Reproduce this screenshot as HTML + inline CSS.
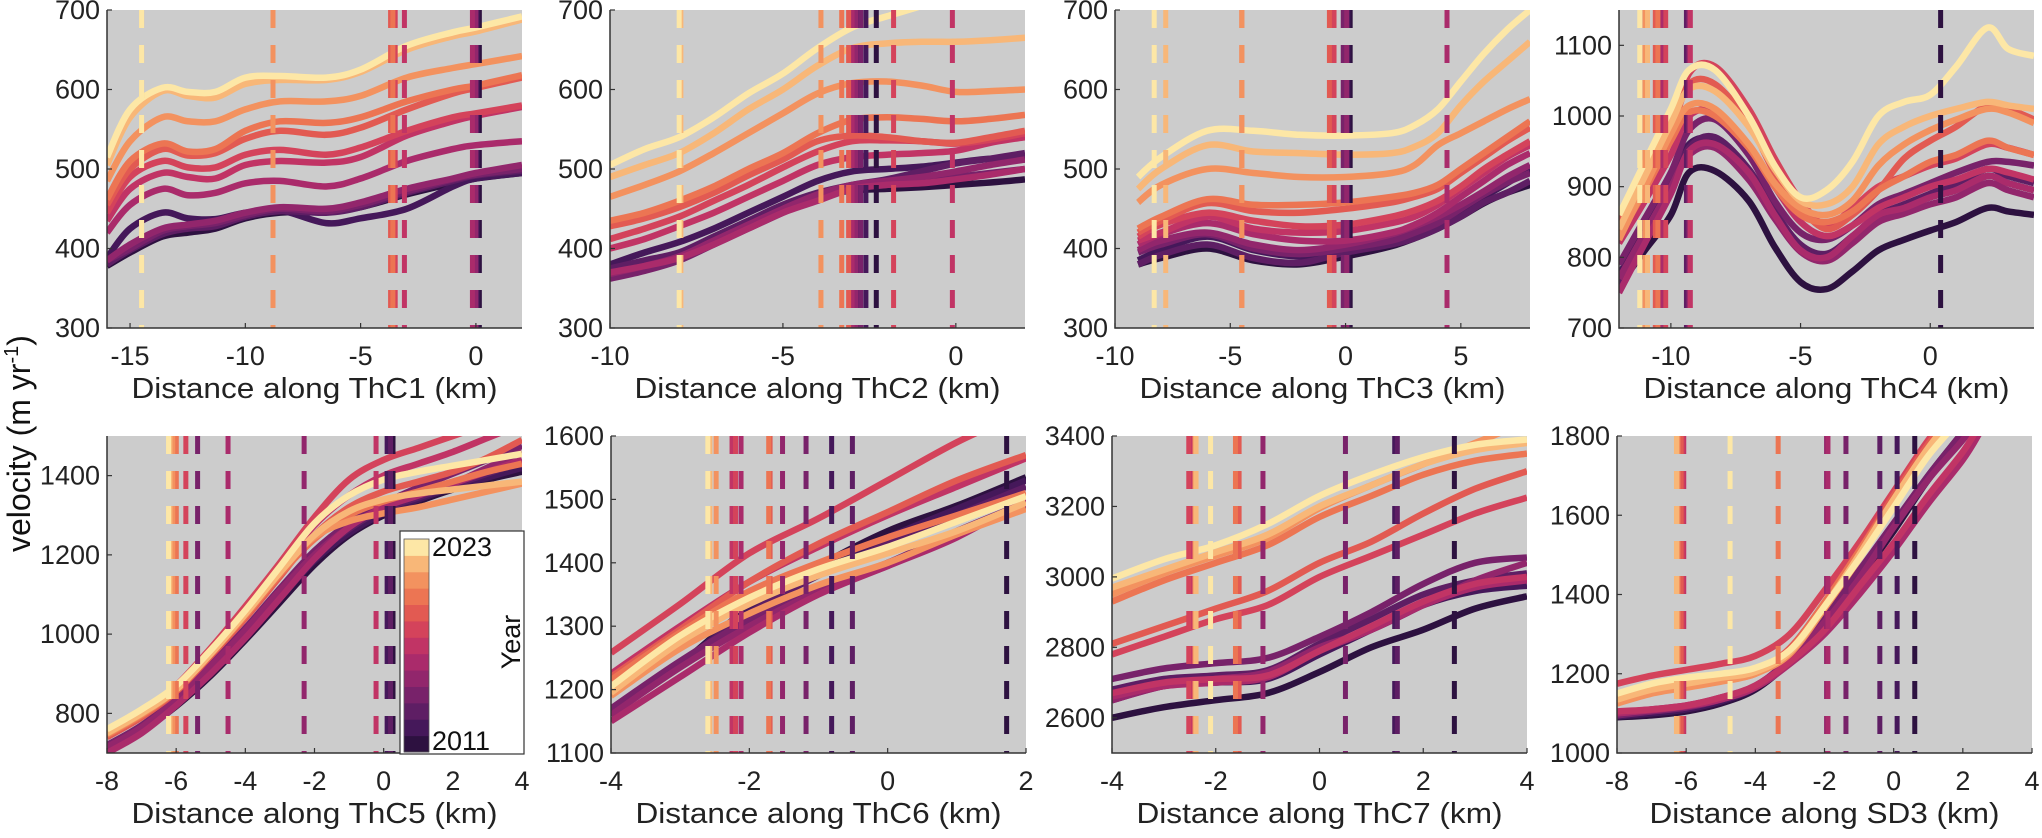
<!DOCTYPE html>
<html><head><meta charset="utf-8">
<style>
html,body{margin:0;padding:0;background:#fff;}
svg{display:block;font-family:"Liberation Sans",Arial,sans-serif;}
</style></head>
<body>
<svg id="fig" width="2042" height="838" viewBox="0 0 2042 838" xmlns="http://www.w3.org/2000/svg">
<text transform="translate(30,552) rotate(-90)" font-size="32" fill="#111">velocity (m yr<tspan dy="-12" font-size="20">-1</tspan><tspan dy="12">)</tspan></text>
</svg>
<script>
const years=[2011,2012,2013,2014,2015,2016,2017,2018,2019,2020,2021,2022,2023];
const colors=['#2d1140','#45185a','#5e1e64','#78226a','#92266c','#aa2b6b','#c13465','#d4435b','#e25a52','#ec7553','#f3925f','#f8b778','#fde7a6'];

// Panel 1 ThC1
const p1x=[-16,-15,-13.6,-12.5,-11.3,-10,-8.5,-6.5,-5,-3,-1,0,2];
const p1v=[
[378,395,415,420,425,438,445,447,452,468,482,488,495],
[388,425,445,438,437,445,448,432,438,450,478,488,495],
[380,398,418,425,428,440,447,445,452,470,485,492,498],
[385,400,422,428,432,442,450,447,455,472,487,493,500],
[385,405,425,430,435,445,452,450,458,475,488,495,505],
[420,455,475,467,470,482,485,478,488,510,525,530,535],
[435,475,495,490,488,505,510,508,515,542,560,567,578],
[445,490,510,502,502,518,524,518,527,548,565,570,580],
[455,500,525,517,520,538,548,543,552,575,595,602,615],
[462,510,532,522,525,548,560,558,565,585,600,605,618],
[485,535,565,560,560,575,585,585,592,615,627,632,642],
[505,565,598,592,590,607,612,612,622,650,667,673,688],
[515,575,602,597,597,615,617,615,625,655,672,678,692]];
const p1t=[0.15,0.05,-0.05,-0.1,0,-0.15,-3.1,-3.5,-3.7,-3.6,-8.8,-14.5,-14.5];
// Panel 2 ThC2
const p2x=[-10,-9,-8,-7,-6,-5,-4,-3,-2,-1,0,1,2];
const p2v=[
[372,380,390,408,428,448,465,473,475,477,480,483,487],
[380,395,408,425,445,465,485,497,500,503,508,513,512],
[375,385,395,415,435,455,470,480,487,497,507,513,520],
[362,372,385,405,425,445,465,475,480,485,490,495,500],
[368,378,390,410,430,450,468,480,485,490,497,505,512],
[370,378,388,405,425,445,460,475,480,482,487,493,500],
[400,412,428,445,465,485,505,515,518,520,523,533,540],
[412,425,440,460,480,502,522,535,536,535,532,537,545],
[428,438,452,470,492,512,535,542,540,535,533,540,548],
[435,445,460,478,500,520,545,562,565,563,560,563,568],
[465,480,497,520,545,570,595,608,610,605,597,598,600],
[490,505,520,545,575,600,630,652,658,660,660,662,665],
[505,525,540,565,595,620,652,678,692,705,720,735,750]];
const p2t=[-2.3,-2.6,-2.8,-2.75,-2.9,-3.0,-0.1,-1.8,-3.1,-3.3,-3.9,-7.95,-8.0];
// Panel 3 ThC3
const p3x=[-9,-8,-6,-4,-2,0,2,3,4,5,6,7,8];
const p3v=[
[380,388,400,385,380,390,403,413,425,440,457,470,480],
[385,398,415,398,390,395,408,418,432,448,465,482,500],
[380,392,405,388,382,395,405,413,425,440,458,470,485],
[395,405,418,400,393,400,410,420,432,450,468,483,495],
[398,410,420,405,398,405,418,428,440,455,472,490,505],
[405,418,432,418,410,410,420,430,445,465,485,505,520],
[410,420,440,425,420,422,432,440,455,475,495,515,530],
[415,430,445,435,428,430,440,448,460,478,500,518,535],
[420,435,457,447,445,450,458,465,475,495,515,535,552],
[425,440,462,455,455,458,465,470,480,500,520,540,560],
[458,480,500,495,490,490,495,505,530,545,560,575,588],
[475,500,530,522,520,518,520,528,545,580,610,635,660],
[490,515,548,548,543,542,545,555,575,610,645,675,700]];
const p3t=[0.2,0.1,0.0,-0.1,0.05,4.4,-0.6,-0.5,-0.7,-4.5,-4.5,-7.8,-8.3];
// Panel 4 ThC4
const p4x=[-12,-11,-10,-9.3,-8.3,-7,-6,-5,-4,-3,-2,-1,0,1,2.2,3,4];
const p4v=[
[760,810,860,920,922,880,815,765,755,780,810,825,838,850,870,865,860],
[775,840,905,960,965,920,860,810,800,825,855,870,885,895,915,905,895],
[760,830,895,955,970,925,865,818,805,830,860,875,890,905,925,915,905],
[790,855,920,980,995,945,880,835,825,845,875,890,905,920,935,935,930],
[770,835,900,945,955,910,855,808,795,820,850,862,875,885,905,895,885],
[750,820,890,950,960,920,860,810,800,830,860,870,885,895,915,905,895],
[820,880,945,1000,1005,955,900,850,830,845,870,885,900,910,925,920,910],
[840,905,970,1060,1070,1010,940,880,845,870,900,915,930,940,960,955,945],
[850,915,980,1045,1045,990,920,870,840,860,895,940,965,985,1015,1010,995],
[830,895,965,1005,1000,955,900,860,850,865,895,915,935,945,965,955,945],
[825,900,975,1015,1010,960,905,870,860,880,930,960,980,995,1010,1005,990],
[840,915,990,1038,1035,985,925,880,875,900,960,985,1000,1010,1020,1015,1010],
[860,935,1010,1065,1065,1000,930,885,895,935,1000,1020,1030,1070,1125,1095,1085]];
const p4t=[0.4,-9.3,-9.4,-10.3,-9.3,-10.4,-9.25,-10.2,-10.6,-10.5,-11.0,-10.9,-11.2];
// Panel 5 ThC5
const p5x=[-8,-7,-6,-5,-4,-3,-2,-1,0,1,2,3,4];
const p5v=[
[705,755,818,895,985,1080,1175,1250,1300,1335,1365,1390,1410],
[710,760,825,905,995,1090,1185,1255,1305,1340,1370,1395,1420],
[718,768,835,915,1005,1100,1195,1265,1315,1345,1375,1405,1435],
[720,770,840,925,1015,1115,1210,1280,1330,1370,1405,1440,1475],
[715,765,835,920,1010,1110,1200,1270,1320,1350,1380,1420,1460],
[700,750,820,900,990,1090,1190,1270,1320,1350,1380,1410,1440],
[740,795,862,955,1055,1165,1275,1350,1400,1430,1460,1495,1530],
[745,800,870,965,1070,1180,1295,1390,1440,1470,1500,1530,1560],
[740,790,855,945,1040,1145,1250,1320,1360,1385,1410,1445,1490],
[745,795,858,950,1045,1150,1240,1300,1335,1360,1385,1410,1430],
[748,798,860,955,1055,1160,1245,1285,1305,1320,1340,1360,1380],
[750,800,860,950,1050,1155,1250,1310,1340,1355,1365,1375,1385],
[760,810,870,960,1060,1170,1280,1350,1390,1410,1425,1440,1455]];
const p5t=[0.27,0.1,0.2,-5.38,-2.3,-4.5,-0.22,-5.72,-6.0,-6.0,-6.1,-6.18,-6.22];
// Panel 6 ThC6
const p6x=[-4,-3,-2,-1,0,1,2];
const p6v=[
[1160,1240,1330,1395,1450,1490,1535],
[1160,1240,1325,1390,1440,1485,1530],
[1165,1240,1320,1380,1430,1475,1520],
[1170,1245,1310,1360,1400,1450,1495],
[1160,1235,1300,1355,1395,1445,1490],
[1150,1220,1290,1350,1395,1440,1500],
[1225,1300,1370,1425,1475,1520,1565],
[1258,1335,1415,1470,1530,1590,1640],
[1220,1295,1370,1430,1480,1530,1570],
[1215,1290,1355,1400,1440,1475,1510],
[1190,1265,1320,1365,1400,1445,1485],
[1195,1275,1335,1380,1415,1450,1495],
[1205,1285,1345,1390,1425,1465,1505]];
const p6t=[1.72,-0.81,-0.51,-1.18,-1.52,-2.12,-2.25,-2.2,-1.7,-1.72,-2.48,-2.57,-2.6];
// Panel 7 ThC7
const p7x=[-4,-3,-2,-1,0,1,2,3,4];
const p7v=[
[2600,2630,2650,2670,2730,2800,2850,2910,2945],
[2650,2690,2700,2710,2780,2850,2920,2960,2975],
[2680,2710,2720,2735,2810,2880,2950,2990,3010],
[2710,2740,2755,2770,2830,2900,2980,3040,3055],
[2650,2690,2710,2730,2800,2850,2920,2990,3040],
[2660,2690,2700,2715,2790,2850,2920,2970,2990],
[2670,2700,2710,2720,2790,2860,2930,2980,3000],
[2780,2830,2880,2920,3000,3060,3120,3180,3225],
[2810,2860,2910,2960,3040,3100,3180,3250,3300],
[2930,2990,3040,3090,3170,3230,3290,3330,3350],
[2950,3010,3060,3110,3195,3260,3320,3380,3440],
[2970,3020,3070,3120,3200,3260,3320,3360,3380],
[2995,3050,3090,3150,3230,3290,3340,3375,3390]];
const p7t=[2.6,1.45,1.5,0.5,-1.09,-1.6,-2.47,-2.52,-1.55,-1.62,-2.4,-2.38,-2.1];
// Panel 8 SD3
const p8x=[-8,-7,-6,-5,-4,-3,-2,-1,0,1,2,2.5];
const p8v=[
[1090,1095,1105,1125,1160,1230,1320,1440,1560,1690,1800,1860],
[1092,1100,1110,1130,1165,1240,1340,1455,1575,1700,1810,1870],
[1098,1105,1115,1135,1165,1235,1335,1450,1570,1690,1800,1860],
[1095,1105,1115,1135,1168,1240,1345,1460,1580,1700,1810,1870],
[1102,1110,1120,1140,1170,1235,1330,1440,1570,1690,1790,1850],
[1100,1108,1118,1135,1165,1225,1300,1400,1510,1630,1740,1810],
[1105,1110,1120,1140,1170,1230,1310,1420,1530,1650,1760,1830],
[1175,1195,1210,1225,1245,1300,1410,1530,1660,1790,1900,1960],
[1140,1165,1180,1190,1205,1265,1380,1510,1650,1780,1890,1950],
[1130,1155,1170,1185,1200,1260,1380,1510,1640,1770,1880,1940],
[1125,1150,1165,1180,1200,1250,1365,1490,1630,1760,1870,1930],
[1135,1160,1175,1190,1205,1255,1370,1500,1640,1770,1880,1940],
[1150,1175,1190,1200,1215,1260,1370,1490,1620,1750,1850,1910]];
const p8t=[0.61,0.1,-0.4,-1.38,-1.94,-1.9,-6.07,-6.12,-6.15,-3.34,-6.24,-6.28,-4.73];

const xTicks1=[-15,-10,-5,0], xTicks2=[-10,-5,0], xTicks3=[-10,-5,0,5], xTicks4=[-10,-5,0];
const xTicks5=[-8,-6,-4,-2,0,2,4], xTicks6=[-4,-2,0,2], xTicks7=[-4,-2,0,2,4], xTicks8=[-8,-6,-4,-2,0,2,4];
const yTicks1=[300,400,500,600,700], yTicks4=[700,800,900,1000,1100];
const yTicks5=[800,1000,1200,1400], yTicks6=[1100,1200,1300,1400,1500,1600];
const yTicks7=[2600,2800,3000,3200,3400], yTicks8=[1000,1200,1400,1600,1800];
const names=['ThC1','ThC2','ThC3','ThC4','ThC5','ThC6','ThC7','SD3'];

const panels=[
 {n:1,L:107,T:10,B:328,xr:[-16,2],yr:[300,700],xs:p1x,v:p1v,t:p1t,xt:xTicks1,yt:yTicks1},
 {n:2,L:610,T:10,B:328,xr:[-10,2],yr:[300,700],xs:p2x,v:p2v,t:p2t,xt:xTicks2,yt:yTicks1},
 {n:3,L:1115,T:10,B:328,xr:[-10,8],yr:[300,700],xs:p3x,v:p3v,t:p3t,xt:xTicks3,yt:yTicks1},
 {n:4,L:1619,T:10,B:328,xr:[-12,4],yr:[700,1150],xs:p4x,v:p4v,t:p4t,xt:xTicks4,yt:yTicks4},
 {n:5,L:107,T:436,B:753,xr:[-8,4],yr:[700,1500],xs:p5x,v:p5v,t:p5t,xt:xTicks5,yt:yTicks5},
 {n:6,L:611,T:436,B:753,xr:[-4,2],yr:[1100,1600],xs:p6x,v:p6v,t:p6t,xt:xTicks6,yt:yTicks6},
 {n:7,L:1112,T:436,B:753,xr:[-4,4],yr:[2500,3400],xs:p7x,v:p7v,t:p7t,xt:xTicks7,yt:yTicks7},
 {n:8,L:1617,T:436,B:753,xr:[-8,4],yr:[1000,1800],xs:p8x,v:p8v,t:p8t,xt:xTicks8,yt:yTicks8}];

const NS='http://www.w3.org/2000/svg';
const svg=document.getElementById('fig');
function mk(tag,attrs,parent){const e=document.createElementNS(NS,tag);for(const k in attrs)e.setAttribute(k,attrs[k]);(parent||svg).appendChild(e);return e;}
function smooth(pts){let d='M'+pts[0][0].toFixed(1)+','+pts[0][1].toFixed(1);
 for(let i=0;i<pts.length-1;i++){const p0=pts[Math.max(0,i-1)],p1=pts[i],p2=pts[i+1],p3=pts[Math.min(pts.length-1,i+2)];
  const c1=[p1[0]+(p2[0]-p0[0])/6,p1[1]+(p2[1]-p0[1])/6],c2=[p2[0]-(p3[0]-p1[0])/6,p2[1]-(p3[1]-p1[1])/6];
  d+=' C'+c1[0].toFixed(1)+','+c1[1].toFixed(1)+' '+c2[0].toFixed(1)+','+c2[1].toFixed(1)+' '+p2[0].toFixed(1)+','+p2[1].toFixed(1);}
 return d;}

const W=415;
const defs=mk('defs',{});
panels.forEach(p=>{
 const H=p.B-p.T;
 const sx=x=>p.L+(x-p.xr[0])/(p.xr[1]-p.xr[0])*W;
 const sy=y=>p.B-(y-p.yr[0])/(p.yr[1]-p.yr[0])*H;
 const cp=mk('clipPath',{id:'cp'+p.n},defs);mk('rect',{x:p.L,y:p.T,width:W,height:H},cp);
 const g=mk('g',{});
 
 
 const bg=mk('rect',{x:p.L,y:p.T,width:W,height:H,fill:'#cccccc'},g);
 
 
 const cg=mk('g',{'clip-path':'url(#cp'+p.n+')'},g);
 p.v.forEach((vals,i)=>{
  const pts=vals.map((v,j)=>[sx(p.xs[j]),sy(v)]);
  const path=mk('path',{d:smooth(pts),fill:'none',stroke:colors[i],'stroke-width':6.5,'stroke-linejoin':'round'},cg);
  
  
 });
 p.t.forEach((t,i)=>{
  const X=sx(t);
  const ln=mk('line',{x1:X,x2:X,y1:p.T,y2:p.B,stroke:colors[i],'stroke-width':5,'stroke-dasharray':'18 17'},cg);
  
  
 });
 const ax=mk('path',{d:`M${p.L},${p.T}V${p.B}H${p.L+W}`,fill:'none',stroke:'#333','stroke-width':1.5},g);
 
 
 p.xt.forEach(t=>{const X=sx(t);
  mk('line',{x1:X,x2:X,y1:p.B,y2:p.B-5,stroke:'#333','stroke-width':1.2},g);
  const tx=mk('text',{x:X,y:p.B+37,'text-anchor':'middle','font-size':27,fill:'#222'},g);tx.textContent=String(t);
  
  
 });
 p.yt.forEach(t=>{const Y=sy(t);
  mk('line',{x1:p.L,x2:p.L+5,y1:Y,y2:Y,stroke:'#333','stroke-width':1.2},g);
  const ty=mk('text',{x:p.L-7,y:Y+9,'text-anchor':'end','font-size':27,fill:'#222'},g);ty.textContent=t;
  
  
 });
 const xl=mk('text',{x:p.L+W/2,y:p.B+70,'text-anchor':'middle','font-size':29,fill:'#222',textLength:p.n==8?350:366,lengthAdjust:'spacingAndGlyphs'},g);
 xl.textContent='Distance along '+names[p.n-1]+' (km)';
 
 
});

// colorbar
const cb=mk('g',{});


mk('rect',{x:400,y:531,width:124,height:223,fill:'#fff',stroke:'#333','stroke-width':1.2},cb);
const cbT=539,cbB=752,cbH=(cbB-cbT)/years.length;
years.forEach((y,i)=>{
 const r=mk('rect',{x:404,y:cbB-(i+1)*cbH,width:25,height:cbH+0.5,fill:colors[i]},cb);
 
 
});
mk('rect',{x:404,y:cbT,width:25,height:cbB-cbT,fill:'none',stroke:'#555','stroke-width':0.8},cb);
const l1=mk('text',{x:432,y:556,'font-size':27,fill:'#111'},cb);l1.textContent='2023';


const l2=mk('text',{x:432,y:750,'font-size':27,fill:'#111'},cb);l2.textContent='2011';


const l3=mk('text',{transform:'translate(520,642) rotate(-90)','text-anchor':'middle','font-size':27,fill:'#111'},cb);l3.textContent='Year';


</script>
</body></html>
